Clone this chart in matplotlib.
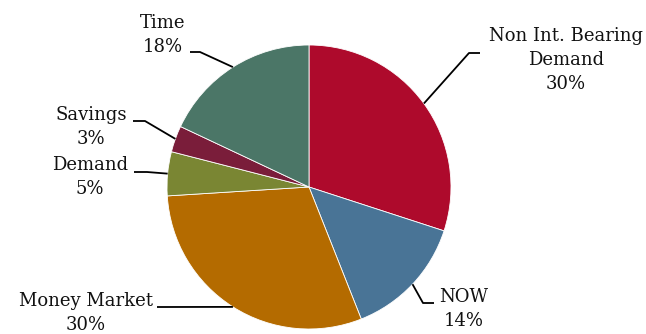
import matplotlib
matplotlib.use("Agg")
import matplotlib.pyplot as plt
import numpy as np

categories = ["Non Int. Bearing\nDemand", "NOW", "Money Market", "Demand", "Savings", "Time"]
values = [30, 14, 30, 5, 3, 18]
colors = ["#AE0A2C", "#497496", "#B46B00", "#7A8633", "#7A1D3A", "#4B7667"]

# label text centers (pixel coords from top) and leader elbows
label_pos = [(566, 60), (464, 309), (86, 313), (90, 177), (91, 127), (163, 35)]
elbow = [[(480, 53), (469, 53)], [(434, 303), (423, 303)], [(157, 307), (165, 307)],
         [(134, 172), (147, 172)], [(133, 121), (145, 121)], [(190, 52), (200, 52)]]

W, H = 646, 334
fig = plt.figure(figsize=(W / 100, H / 100), dpi=100)
ax = fig.add_axes([0, 0, 1, 1])

cx, cy, r = 309, 187, 142
wedges, _ = ax.pie(values, colors=colors, startangle=90, counterclock=False,
                   center=(cx, H - cy), radius=r, frame=True,
                   wedgeprops=dict(linewidth=0.6, edgecolor="white"))
ax.set_xlim(0, W)
ax.set_ylim(0, H)
ax.axis("off")

for w, cat, val, lp, el in zip(wedges, categories, values, label_pos, elbow):
    ang = np.deg2rad((w.theta1 + w.theta2) / 2)
    px = cx + r * np.cos(ang)
    py = (H - cy) + r * np.sin(ang)
    xs = [el[0][0], el[1][0], px]
    ys = [H - el[0][1], H - el[1][1], py]
    ax.plot(xs, ys, color="black", lw=1.3, solid_capstyle="butt")
    ax.text(lp[0], H - lp[1], f"{cat}\n{val}%", ha="center", va="center",
            fontsize=13, family="DejaVu Serif", linespacing=1.4, color="#111111")

fig.savefig("out.png", dpi=100)
